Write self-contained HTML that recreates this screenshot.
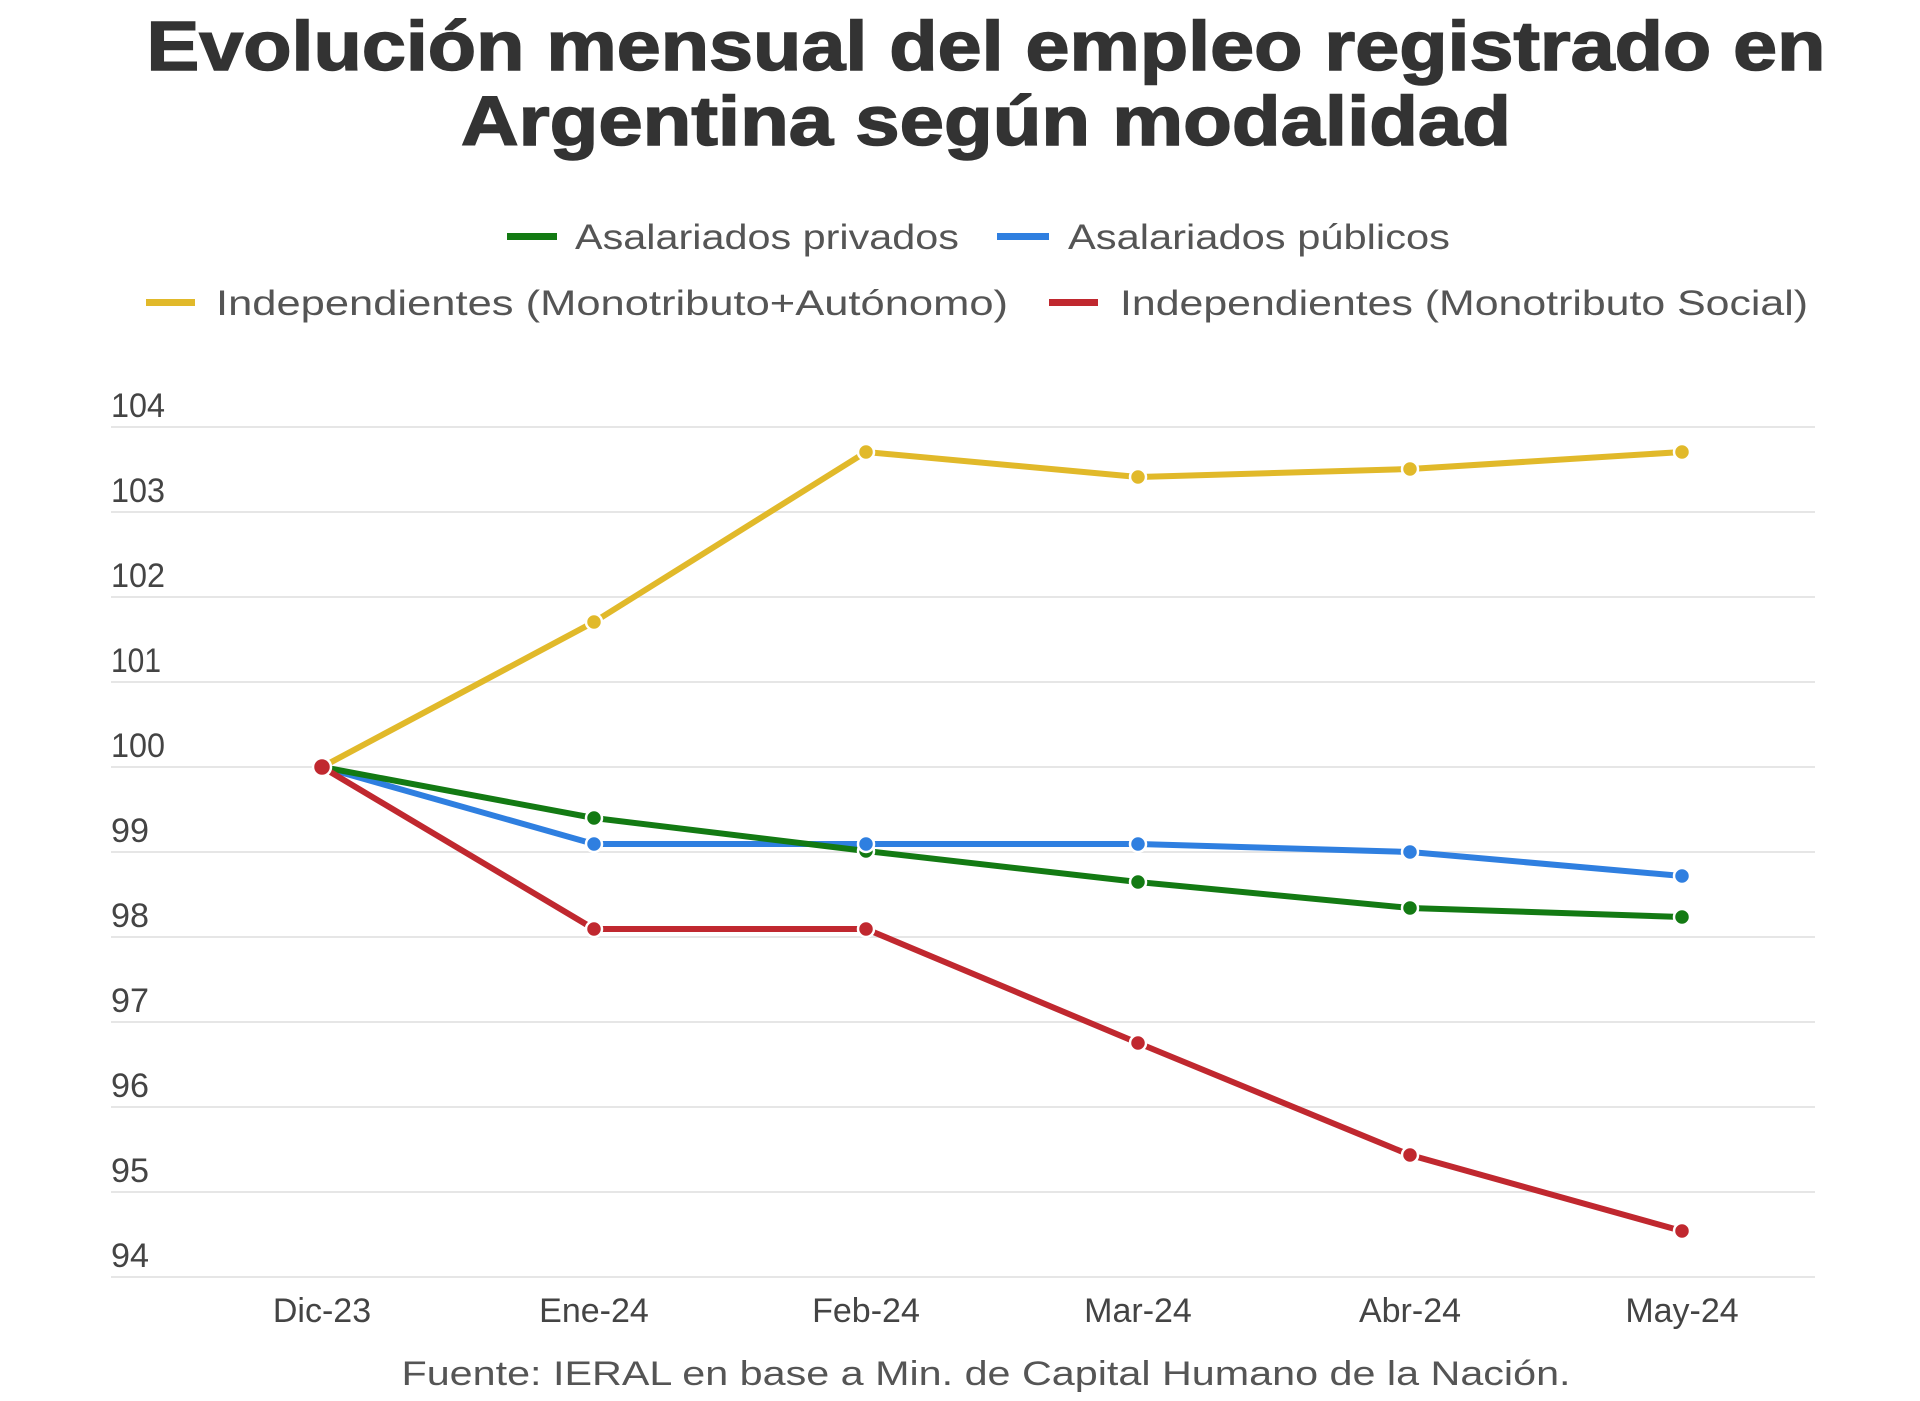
<!DOCTYPE html>
<html><head><meta charset="utf-8"><style>
html,body{margin:0;padding:0;background:#fff;}
svg{display:block;}
</style></head><body>
<svg width="1920" height="1401" viewBox="0 0 1920 1401" xmlns="http://www.w3.org/2000/svg" font-family="Liberation Sans, sans-serif">
<rect width="1920" height="1401" fill="#fff"/>
<text x="986" y="70" text-anchor="middle" font-size="70" font-weight="bold" fill="#333" stroke="#333" stroke-width="1.5" textLength="1679" lengthAdjust="spacingAndGlyphs">Evolución mensual del empleo registrado en</text>
<text x="986" y="145" text-anchor="middle" font-size="70" font-weight="bold" fill="#333" stroke="#333" stroke-width="1.5" textLength="1050" lengthAdjust="spacingAndGlyphs">Argentina según modalidad</text>

<g font-size="35" fill="#555">
<rect x="507" y="233" width="50" height="7" fill="#137a13"/>
<text x="575" y="249" textLength="384" lengthAdjust="spacingAndGlyphs">Asalariados privados</text>
<rect x="997" y="233" width="52" height="7" fill="#2f7fe0"/>
<text x="1068" y="249" textLength="382" lengthAdjust="spacingAndGlyphs">Asalariados públicos</text>
<rect x="146" y="299" width="49" height="7" fill="#e1b92a"/>
<text x="216" y="315" textLength="792" lengthAdjust="spacingAndGlyphs">Independientes (Monotributo+Autónomo)</text>
<rect x="1049" y="299" width="49" height="7" fill="#c0282f"/>
<text x="1120" y="315" textLength="688" lengthAdjust="spacingAndGlyphs">Independientes (Monotributo Social)</text>
</g>

<g stroke="#e6e6e6" stroke-width="2">
<line x1="111" x2="1815" y1="427" y2="427"/>
<line x1="111" x2="1815" y1="512" y2="512"/>
<line x1="111" x2="1815" y1="597" y2="597"/>
<line x1="111" x2="1815" y1="682" y2="682"/>
<line x1="111" x2="1815" y1="767" y2="767"/>
<line x1="111" x2="1815" y1="852" y2="852"/>
<line x1="111" x2="1815" y1="937" y2="937"/>
<line x1="111" x2="1815" y1="1022" y2="1022"/>
<line x1="111" x2="1815" y1="1107" y2="1107"/>
<line x1="111" x2="1815" y1="1192" y2="1192"/>
<line x1="111" x2="1815" y1="1277" y2="1277"/>
</g>
<g font-size="34" fill="#444">
<text x="111" y="417" textLength="54" lengthAdjust="spacingAndGlyphs">104</text>
<text x="111" y="502" textLength="54" lengthAdjust="spacingAndGlyphs">103</text>
<text x="111" y="587" textLength="54" lengthAdjust="spacingAndGlyphs">102</text>
<text x="111" y="672" textLength="50" lengthAdjust="spacingAndGlyphs">101</text>
<text x="111" y="757" textLength="54" lengthAdjust="spacingAndGlyphs">100</text>
<text x="111" y="842" textLength="38" lengthAdjust="spacingAndGlyphs">99</text>
<text x="111" y="927" textLength="38" lengthAdjust="spacingAndGlyphs">98</text>
<text x="111" y="1012" textLength="38" lengthAdjust="spacingAndGlyphs">97</text>
<text x="111" y="1097" textLength="38" lengthAdjust="spacingAndGlyphs">96</text>
<text x="111" y="1182" textLength="38" lengthAdjust="spacingAndGlyphs">95</text>
<text x="111" y="1267" textLength="38" lengthAdjust="spacingAndGlyphs">94</text>
</g>
<g font-size="34" fill="#444" text-anchor="middle">
<text x="322" y="1322">Dic-23</text>
<text x="594" y="1322">Ene-24</text>
<text x="866" y="1322">Feb-24</text>
<text x="1138" y="1322">Mar-24</text>
<text x="1410" y="1322">Abr-24</text>
<text x="1682" y="1322">May-24</text>
</g>
<text x="986" y="1385" text-anchor="middle" font-size="34" fill="#555" textLength="1169" lengthAdjust="spacingAndGlyphs">Fuente: IERAL en base a Min. de Capital Humano de la Nación.</text>

<g fill="none" stroke-width="6" stroke-linejoin="round">
<polyline stroke="#e1b92a" points="322,767 594,622 866,452 1138,477 1410,469 1682,452"/>
<polyline stroke="#2f7fe0" points="322,767 594,844 866,844 1138,844 1410,852 1682,876"/>
<polyline stroke="#137a13" points="322,767 594,818 866,851 1138,882 1410,908 1682,917"/>
<polyline stroke="#c0282f" points="322,767 594,929 866,929 1138,1043 1410,1155 1682,1231"/>
</g>
<g stroke="#fff" stroke-width="2.5">
<g fill="#e1b92a"><circle cx="594" cy="622" r="8"/><circle cx="866" cy="452" r="8"/><circle cx="1138" cy="477" r="8"/><circle cx="1410" cy="469" r="8"/><circle cx="1682" cy="452" r="8"/></g>
<g fill="#137a13"><circle cx="594" cy="818" r="8"/><circle cx="866" cy="851" r="8"/><circle cx="1138" cy="882" r="8"/><circle cx="1410" cy="908" r="8"/><circle cx="1682" cy="917" r="8"/></g>
<g fill="#2f7fe0"><circle cx="594" cy="844" r="8"/><circle cx="866" cy="844" r="8"/><circle cx="1138" cy="844" r="8"/><circle cx="1410" cy="852" r="8"/><circle cx="1682" cy="876" r="8"/></g>
<g fill="#c0282f"><circle cx="322" cy="767" r="9"/><circle cx="594" cy="929" r="8"/><circle cx="866" cy="929" r="8"/><circle cx="1138" cy="1043" r="8"/><circle cx="1410" cy="1155" r="8"/><circle cx="1682" cy="1231" r="8"/></g>
</g>
</svg>
</body></html>
